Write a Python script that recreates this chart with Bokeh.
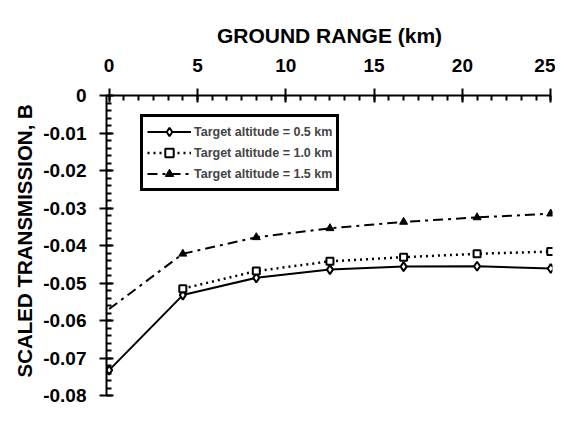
from bokeh.plotting import figure
from bokeh.models import Range1d, FixedTicker, ColumnDataSource, CDSView, IndexFilter, Title
from bokeh.embed import file_html
from bokeh.resources import INLINE

# Data
range_km = [0.0, 4.17, 8.33, 12.5, 16.67, 20.83, 25.0]
alt_05 = [-0.0732, -0.0532, -0.0486, -0.0464, -0.0456, -0.0455, -0.0461]
range_km_10 = [4.17, 8.33, 12.5, 16.67, 20.83, 25.0]
alt_10 = [-0.0515, -0.0468, -0.0442, -0.0431, -0.0422, -0.0416]
alt_15 = [-0.0569, -0.0422, -0.0378, -0.0354, -0.0337, -0.0325, -0.0315]

labels = ["Target altitude = 0.5 km", "Target altitude = 1.0 km", "Target altitude = 1.5 km"]
x_ticks = [0, 5, 10, 15, 20, 25]
y_ticks = [0, -0.01, -0.02, -0.03, -0.04, -0.05, -0.06, -0.07, -0.08]
y_tick_labels = ["0", "-0.01", "-0.02", "-0.03", "-0.04", "-0.05", "-0.06", "-0.07", "-0.08"]

FONT = "Liberation Sans"

p = figure(width=555, height=407, x_range=Range1d(-0.15, 25.1), y_range=Range1d(-0.0805, 0.0),
           x_axis_location="above", output_backend="svg", toolbar_location=None,
           min_border_left=106, min_border_top=95, min_border_right=3, min_border_bottom=10)
p.outline_line_color = None
p.xgrid.visible = False
p.ygrid.visible = False

s1 = ColumnDataSource(dict(x=range_km, y=alt_05))
s2 = ColumnDataSource(dict(x=range_km_10, y=alt_10))
s3 = ColumnDataSource(dict(x=range_km, y=alt_15))

p.line("x", "y", source=s1, line_color="black", line_width=2, legend_label=labels[0])
p.scatter("x", "y", source=s1, marker="diamond", size=9, fill_color="white", line_color="black",
          line_width=2, legend_label=labels[0])

p.line("x", "y", source=s2, line_color="black", line_width=2.5, line_dash="2 4", legend_label=labels[1])
p.scatter("x", "y", source=s2, marker="square", size=7, fill_color="white", line_color="black",
          line_width=2, legend_label=labels[1])

p.line("x", "y", source=s3, line_color="black", line_width=2, line_dash="10 5 3 5", legend_label=labels[2])
p.scatter("x", "y", source=s3, view=CDSView(filter=IndexFilter(list(range(1, len(range_km))))),
          marker="triangle", size=8, fill_color="black", line_color="black", legend_label=labels[2])

# X axis (top)
xa = p.xaxis[0]
xa.ticker = FixedTicker(ticks=x_ticks, minor_ticks=[i * 5 / 6 for i in range(31)])
xa.bounds = (0, 25)
xa.axis_label = "GROUND RANGE (km)"
xa.axis_label_text_font = FONT
xa.axis_label_text_font_style = "bold"
xa.axis_label_text_font_size = "21px"
xa.axis_label_standoff = 9
xa.major_label_text_font = FONT
xa.major_label_text_font_style = "bold"
xa.major_label_text_font_size = "19px"
xa.major_label_standoff = 17

# Y axis (left)
ya = p.yaxis[0]
ya.ticker = FixedTicker(ticks=y_ticks, minor_ticks=[-i * 0.002 for i in range(41)])
ya.bounds = (-0.08, 0)
ya.major_label_overrides = {t: l for t, l in zip(y_ticks, y_tick_labels)}
ya.major_label_text_font = FONT
ya.major_label_text_font_style = "bold"
ya.major_label_text_font_size = "19px"
ya.major_label_standoff = 13

y_title = Title(text="SCALED TRANSMISSION, B", align="left", offset=20, vertical_align="bottom",
                text_font=FONT, text_font_style="bold", text_font_size="20.5px",
                text_color="black", standoff=10)
p.add_layout(y_title, "left")

for ax in (xa, ya):
    ax.axis_line_width = 2
    ax.axis_line_color = "black"
    ax.major_tick_line_width = 2
    ax.major_tick_in = 7
    ax.major_tick_out = 7
    ax.minor_tick_line_width = 2
    ax.minor_tick_in = 5
    ax.minor_tick_out = 0
    ax.major_label_text_color = "black"
    ax.axis_label_text_color = "black"

leg = p.legend[0]
leg.location = (34, 206)
leg.margin = 0
leg.padding = 4
leg.spacing = 0
leg.glyph_width = 44
leg.glyph_height = 21
leg.label_height = 21
leg.label_standoff = 3
leg.label_text_font = FONT
leg.label_text_font_style = "bold"
leg.label_text_font_size = "12.5px"
leg.border_line_color = "black"
leg.border_line_alpha = 1
leg.border_line_width = 3
leg.background_fill_alpha = 1

open("out.html", "w").write(file_html(p, INLINE))
